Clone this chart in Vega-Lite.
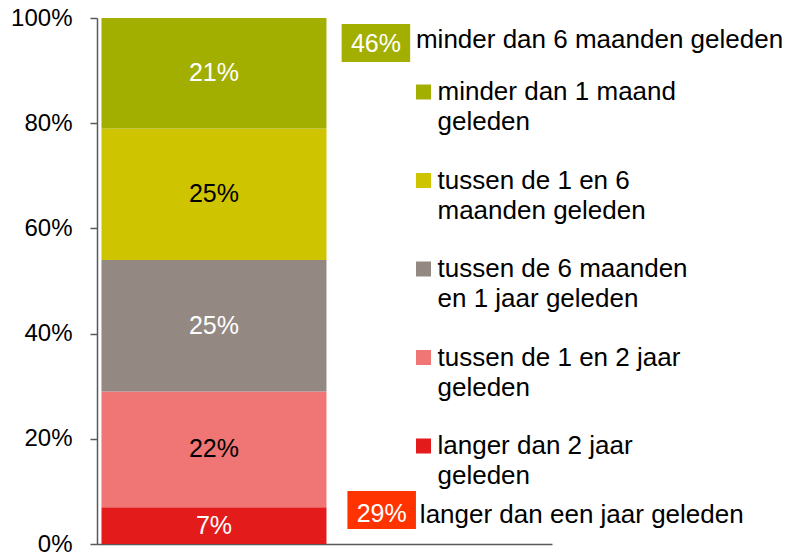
{
  "$schema": "https://vega.github.io/schema/vega-lite/v6.json",
  "width": 455,
  "height": 526,
  "autosize": {"type": "none"},
  "padding": {"left": 97, "top": 18, "right": 240, "bottom": 11},
  "background": "white",
  "config": {
    "view": {"stroke": null},
    "font": "Liberation Sans",
    "axis": {"grid": false},
    "style": {"guide-label": {"lineHeight": 30}}
  },
  "datasets": {
    "bars": [
      {"cat": "langer dan 2 jaar geleden", "share": 0.07, "ord": 1, "label": "7%"},
      {"cat": "tussen de 1 en 2 jaar geleden", "share": 0.22, "ord": 2, "label": "22%"},
      {"cat": "tussen de 6 maanden en 1 jaar geleden", "share": 0.25, "ord": 3, "label": "25%"},
      {"cat": "tussen de 1 en 6 maanden geleden", "share": 0.25, "ord": 4, "label": "25%"},
      {"cat": "minder dan 1 maand geleden", "share": 0.21, "ord": 5, "label": "21%"}
    ],
    "recent": [{"pct": "46%", "label": "minder dan 6 maanden geleden"}],
    "old": [{"pct": "29%", "label": "langer dan een jaar geleden"}]
  },
  "layer": [
    {
      "data": {"name": "bars"},
      "mark": {"type": "bar", "orient": "vertical", "width": 225},
      "encoding": {
        "x": {"datum": 0.5033, "type": "quantitative", "scale": {"domain": [0, 2], "nice": false, "zero": true},
              "axis": {"title": null, "labels": false, "ticks": false, "domainColor": "#595959", "domainWidth": 1.5}},
        "y": {"field": "share", "type": "quantitative", "stack": "zero",
              "scale": {"domain": [0, 1], "nice": false, "padding": 0},
              "axis": {"title": null, "format": "%", "values": [0, 0.2, 0.4, 0.6, 0.8, 1],
                       "labelFontSize": 24, "labelColor": "black", "labelPadding": 18,
                       "tickSize": 7, "tickColor": "#595959", "domainColor": "#595959", "domainWidth": 1.5, "tickWidth": 1.5}},
        "order": {"field": "ord", "type": "quantitative"},
        "color": {"field": "cat", "type": "nominal",
          "scale": {
            "domain": ["minder dan 1 maand geleden", "tussen de 1 en 6 maanden geleden", "tussen de 6 maanden en 1 jaar geleden", "tussen de 1 en 2 jaar geleden", "langer dan 2 jaar geleden"],
            "range": ["#A3AF00", "#CEC400", "#948883", "#F07575", "#E31B1B"]
          },
          "legend": {
            "title": null, "orient": "none", "legendX": 313.5, "legendY": 61, "padding": 0,
            "symbolType": "square", "symbolSize": 225, "symbolStrokeWidth": 0,
            "labelFontSize": 26, "labelLimit": 400, "labelColor": "black",
            "labelBaseline": "middle", "labelOffset": 1, "rowPadding": 32.5,
            "labelExpr": "datum.label == 'minder dan 1 maand geleden' ? ['minder dan 1 maand', 'geleden'] : datum.label == 'tussen de 1 en 6 maanden geleden' ? ['tussen de 1 en 6', 'maanden geleden'] : datum.label == 'tussen de 6 maanden en 1 jaar geleden' ? ['tussen de 6 maanden', 'en 1 jaar geleden'] : datum.label == 'tussen de 1 en 2 jaar geleden' ? ['tussen de 1 en 2 jaar', 'geleden'] : ['langer dan 2 jaar', 'geleden']"
          }
        }
      }
    },
    {
      "data": {"name": "bars"},
      "mark": {"type": "text", "fontSize": 25, "baseline": "middle", "align": "center"},
      "encoding": {
        "x": {"datum": 0.5033, "type": "quantitative"},
        "y": {"field": "share", "type": "quantitative", "stack": "zero", "bandPosition": 0.5},
        "order": {"field": "ord", "type": "quantitative"},
        "text": {"field": "label"},
        "color": {
          "condition": {"test": "datum.cat == 'tussen de 1 en 6 maanden geleden' || datum.cat == 'tussen de 1 en 2 jaar geleden'", "value": "black"},
          "value": "white"
        }
      }
    },
    {
      "data": {"name": "recent"},
      "mark": {"type": "rect", "color": "#A3AF00"},
      "encoding": {
        "x": {"datum": 1.077, "type": "quantitative"}, "x2": {"datum": 1.385},
        "y": {"datum": 0.9886, "type": "quantitative"}, "y2": {"datum": 0.9163}
      }
    },
    {
      "data": {"name": "recent"},
      "mark": {"type": "text", "fontSize": 25, "color": "white", "align": "center", "baseline": "alphabetic"},
      "encoding": {
        "x": {"datum": 1.231, "type": "quantitative"},
        "y": {"datum": 0.935, "type": "quantitative"},
        "text": {"field": "pct"}
      }
    },
    {
      "data": {"name": "recent"},
      "mark": {"type": "text", "fontSize": 26, "color": "black", "align": "left", "baseline": "alphabetic"},
      "encoding": {
        "x": {"datum": 1.411, "type": "quantitative"},
        "y": {"datum": 0.943, "type": "quantitative"},
        "text": {"field": "label"}
      }
    },
    {
      "data": {"name": "old"},
      "mark": {"type": "rect", "color": "#FF3300"},
      "encoding": {
        "x": {"datum": 1.103, "type": "quantitative"}, "x2": {"datum": 1.411},
        "y": {"datum": 0.1008, "type": "quantitative"}, "y2": {"datum": 0.0285}
      }
    },
    {
      "data": {"name": "old"},
      "mark": {"type": "text", "fontSize": 25, "color": "white", "align": "center", "baseline": "alphabetic"},
      "encoding": {
        "x": {"datum": 1.257, "type": "quantitative"},
        "y": {"datum": 0.0424, "type": "quantitative"},
        "text": {"field": "pct"}
      }
    },
    {
      "data": {"name": "old"},
      "mark": {"type": "text", "fontSize": 26, "color": "black", "align": "left", "baseline": "alphabetic"},
      "encoding": {
        "x": {"datum": 1.4286, "type": "quantitative"},
        "y": {"datum": 0.0405, "type": "quantitative"},
        "text": {"field": "label"}
      }
    }
  ]
}
